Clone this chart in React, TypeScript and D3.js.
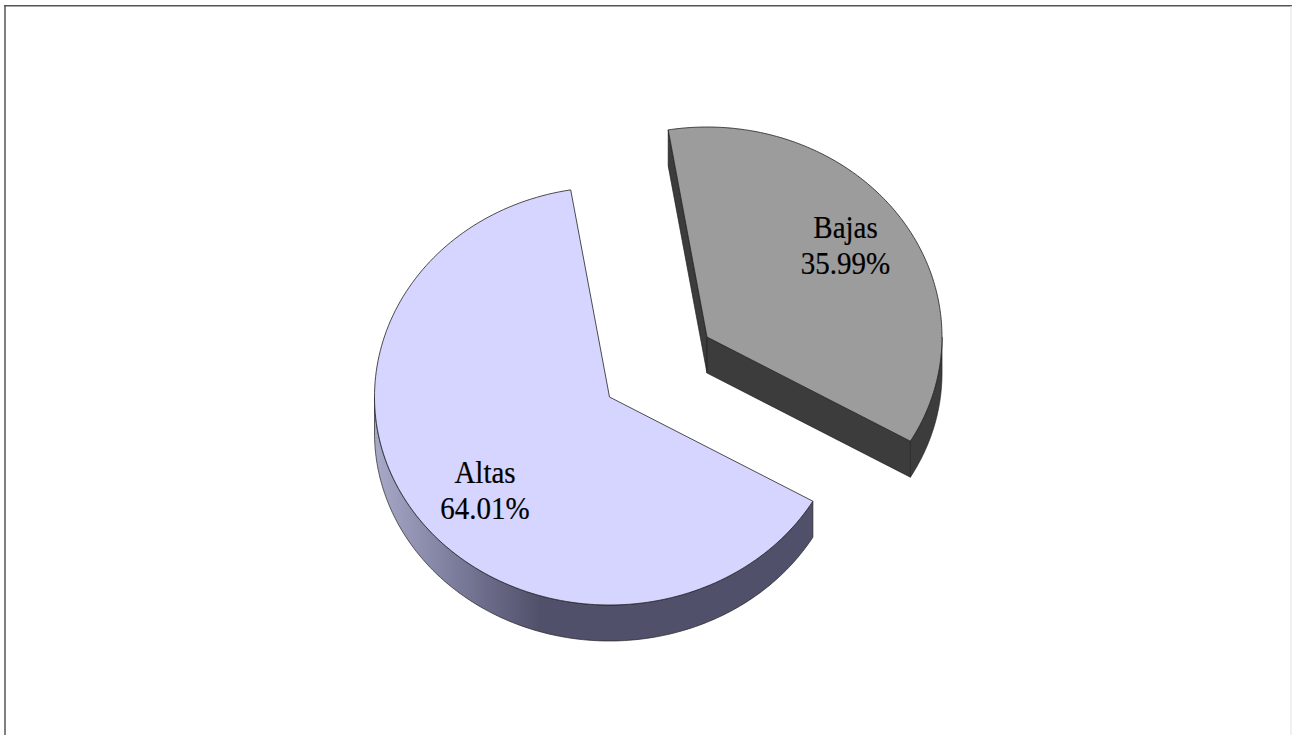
import React from "react";
import * as d3 from "d3";

const categories = ["Bajas", "Altas"];
const shares = [35.99, 64.01];
const labels = ["35.99%", "64.01%"];
const topColors = ["#9c9c9c", "#d5d5ff"];
const sideColors = ["#3c3c3c", "#50506a"];

const W = 1292, H = 735;
const RX = 235, RY_TOP = 210, RY_BOTTOM = 208;
const centers: [number, number][] = [[707, 337], [609.5, 397]];
const depths = [36, 36];
const labelPos: [number, number][] = [[845.5, 238], [485, 483]];
const START = (-9.5 * Math.PI) / 180;
const FONT_SIZE = 29;
const LINE_GAP = 36;

const pieGen = d3.pie<number>().sort(null).startAngle(START).endAngle(START + 2 * Math.PI);
const sx = (a: number) => Math.sin(a) * RX;
const sy = (a: number) => {
  const c = Math.cos(a);
  return -c * (c > 0 ? RY_TOP : RY_BOTTOM);
};

function projected(ctx: d3.Path, a0: number, a1: number, dy: number, move: boolean) {
  const n = 160;
  const s = d3.scaleLinear().domain([0, n]).range([a0, a1]);
  d3.range(n + 1).forEach((i) => {
    const a = s(i);
    if (i === 0 && move) ctx.moveTo(sx(a), sy(a) + dy);
    else ctx.lineTo(sx(a), sy(a) + dy);
  });
}
function topPath(a0: number, a1: number) {
  const p = d3.path();
  p.moveTo(0, 0);
  projected(p, a0, a1, 0, false);
  p.closePath();
  return p.toString();
}
function rimPath(a0: number, a1: number, d: number) {
  const p = d3.path();
  projected(p, a0, a1, 0, true);
  projected(p, a1, a0, d, false);
  p.closePath();
  return p.toString();
}
function cutPath(a: number, d: number) {
  const p = d3.path();
  p.moveTo(0, 0);
  p.lineTo(sx(a), sy(a));
  p.lineTo(sx(a), sy(a) + d);
  p.lineTo(0, d);
  p.closePath();
  return p.toString();
}

function Label({ i }: { i: number }) {
  const x = labelPos[i][0], y = labelPos[i][1];
  const common = {
    textAnchor: "middle" as const,
    fontFamily: "'Liberation Serif'",
    fontSize: FONT_SIZE,
    fill: "#000",
    stroke: "#000",
    strokeWidth: 0.2,
  };
  return (
    <g>
      <text {...common} transform={`translate(${x},${y}) scale(1,1.07)`}>{categories[i]}</text>
      <text {...common} transform={`translate(${x},${y + LINE_GAP}) scale(1,1.07)`}>{labels[i]}</text>
    </g>
  );
}

export default function App() {
  const arcs = pieGen(shares);
  const bajas = arcs[0], altas = arcs[1];
  return (
    <svg
      width={W}
      height={H}
      viewBox={`0 0 ${W} ${H}`}
      style={{ position: "fixed", left: 0, top: 0, display: "block", background: "#fff" }}
    >
      <defs>
        <linearGradient id="altasSide" gradientUnits="userSpaceOnUse" x1={-234} x2={-69} y1={0} y2={0}>
          <stop offset="0" stopColor="#a8a8c8" />
          <stop offset="0.5" stopColor="#7a7a9a" />
          <stop offset="1" stopColor="#50506a" />
        </linearGradient>
      </defs>
      <line x1={5} x2={5} y1={5} y2={H} stroke="#808080" strokeWidth={2} />
      <line x1={4} x2={W} y1={5.7} y2={5.7} stroke="#555" strokeWidth={1.5} />
      <line x1={1291} x2={1291} y1={6} y2={H} stroke="#e2e2e2" strokeWidth={1} />

      <g transform={`translate(${centers[1][0]},${centers[1][1]})`}>
        <path
          d={rimPath(altas.startAngle, Math.min(altas.endAngle, (3 * Math.PI) / 2), depths[1])}
          stroke="#222"
          strokeWidth={0.7}
          style={{ fill: "url(#altasSide)" }}
        />
        <path d={topPath(altas.startAngle, altas.endAngle)} fill={topColors[1]} stroke="#222" strokeWidth={0.8} />
      </g>
      <Label i={1} />

      <g transform={`translate(${centers[0][0]},${centers[0][1]})`}>
        <path d={cutPath(bajas.startAngle, depths[0])} fill={sideColors[0]} stroke="#222" strokeWidth={0.7} />
        <path d={rimPath(Math.PI / 2, bajas.endAngle, depths[0])} fill={sideColors[0]} stroke="#222" strokeWidth={0.7} />
        <path d={cutPath(bajas.endAngle, depths[0])} fill={sideColors[0]} stroke="#222" strokeWidth={0.7} />
        <path d={topPath(bajas.startAngle, bajas.endAngle)} fill={topColors[0]} stroke="#222" strokeWidth={0.8} />
      </g>
      <Label i={0} />
    </svg>
  );
}
